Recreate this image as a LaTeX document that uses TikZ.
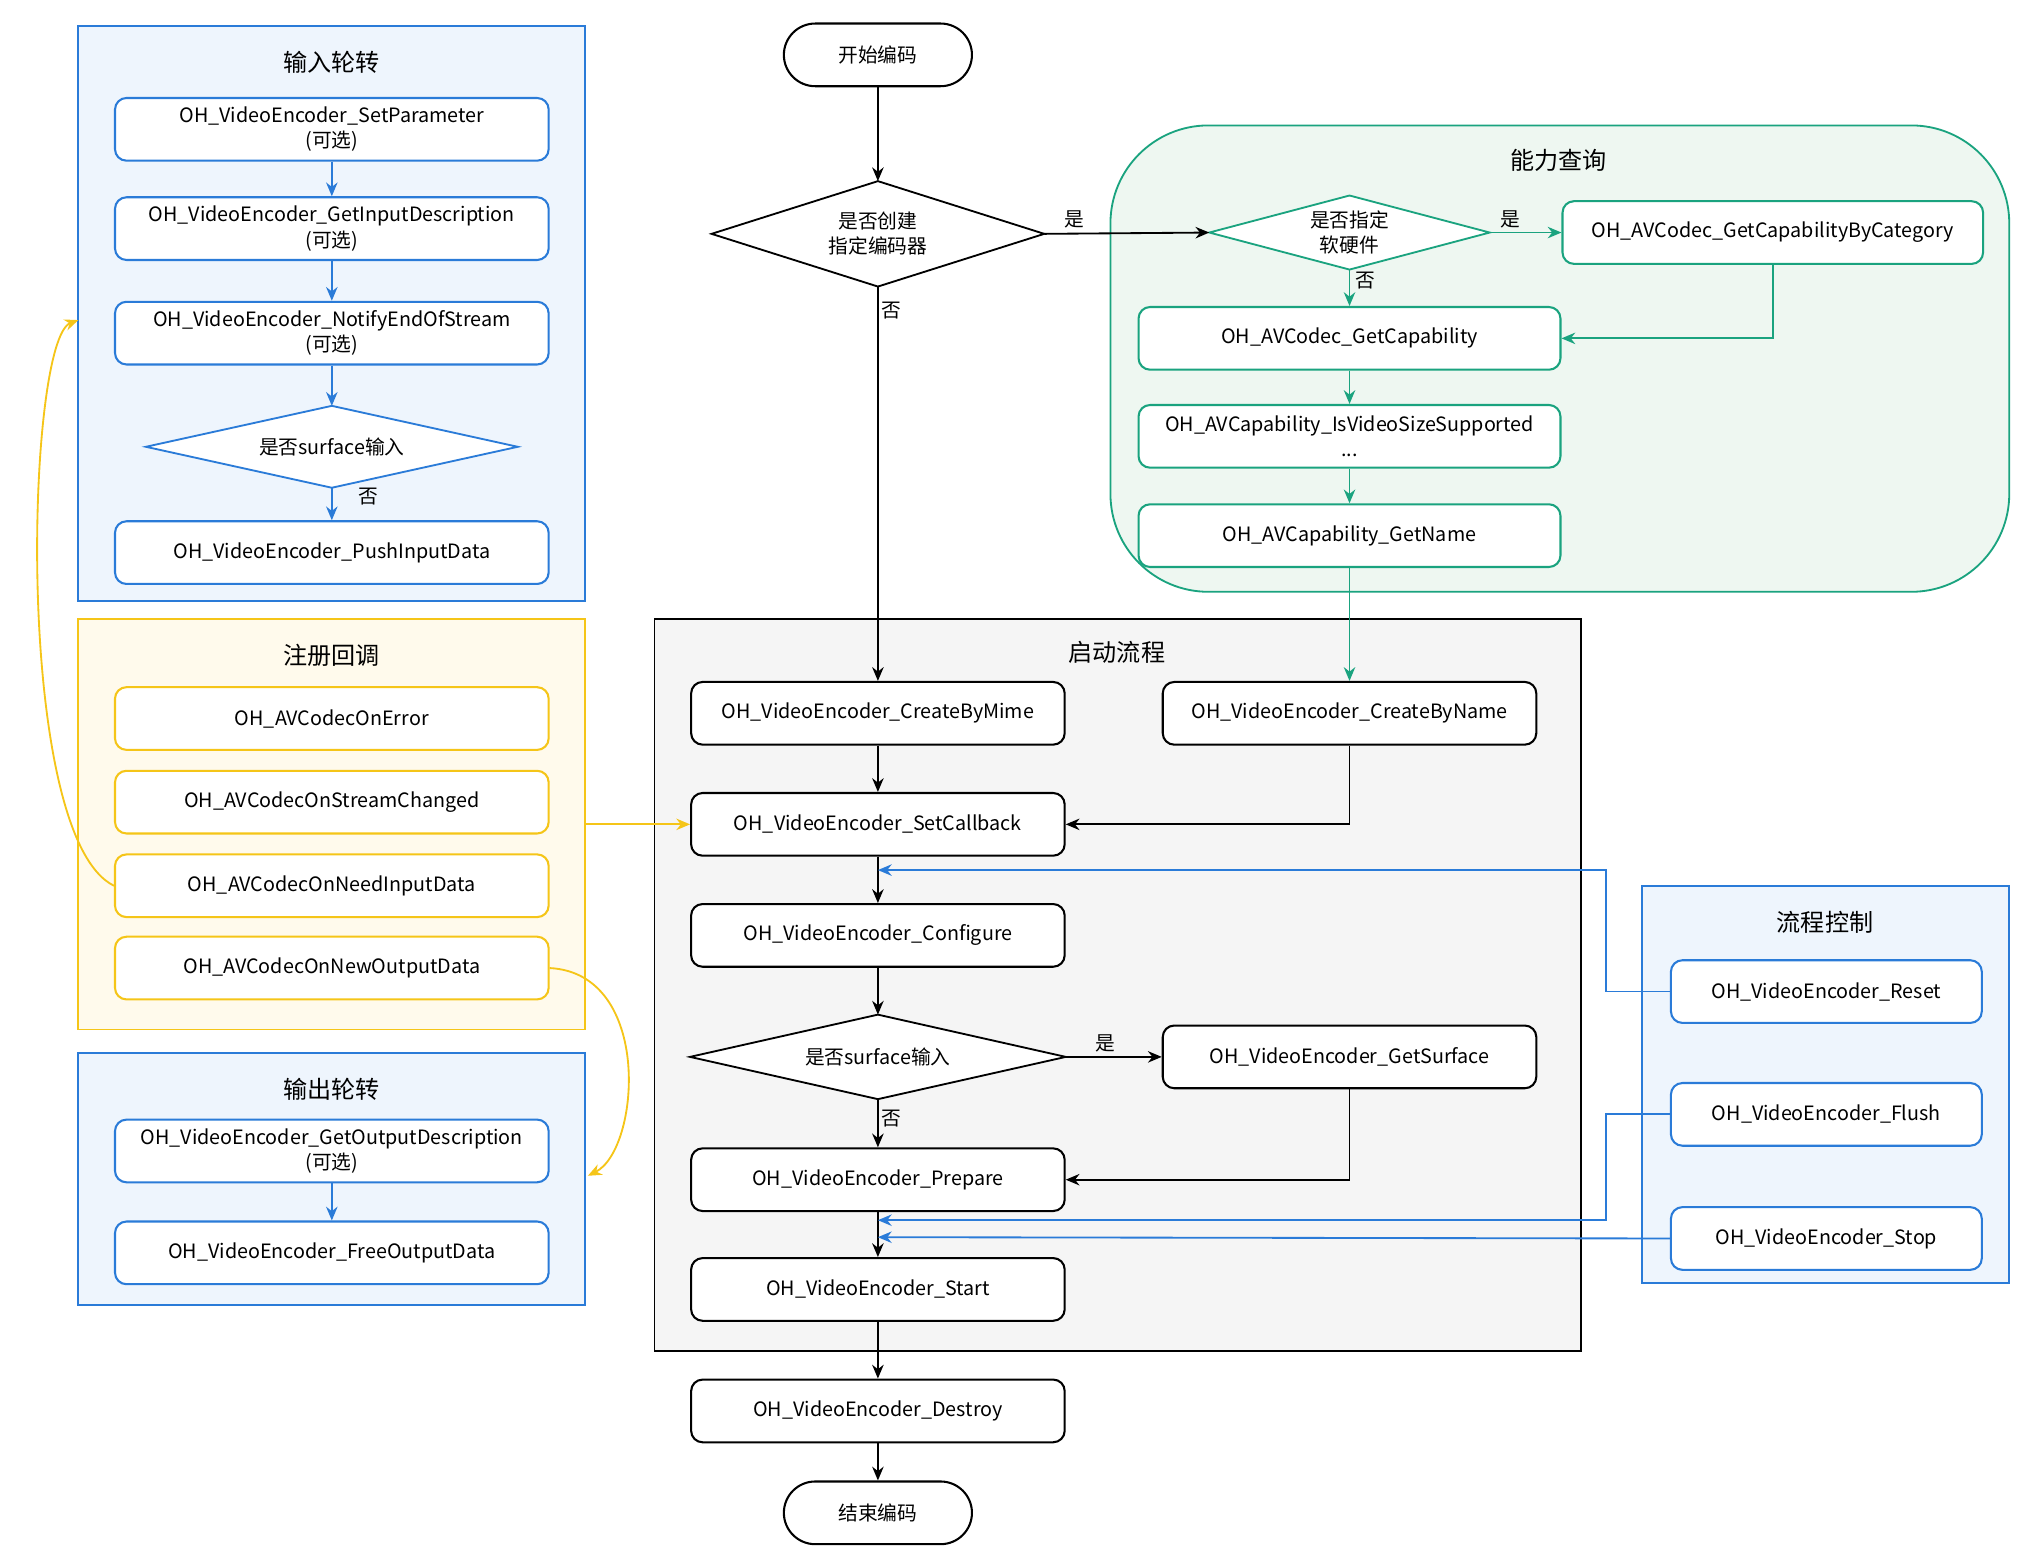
\documentclass[tikz,border=0pt]{standalone}
\usepackage{fontspec}
\setmainfont{Noto Sans CJK SC}
\usetikzlibrary{arrows.meta}
\definecolor{cb}{HTML}{2A7BD8}
\definecolor{cy}{HTML}{F5C518}
\definecolor{cg}{HTML}{1AA37F}
\definecolor{fb}{HTML}{EEF5FD}
\definecolor{fy}{HTML}{FFFAEC}
\definecolor{fg}{HTML}{EEF7F1}
\definecolor{fgr}{HTML}{F5F5F5}
\tikzset{
 base/.style={rounded corners=5pt,line width=0.9pt,fill=white,align=center,inner sep=1pt,minimum height=0.96cm,font=\fontsize{8.6}{11}\selectfont},
 bbox/.style={base,draw=cb,minimum width=6.64cm},
 ybox/.style={base,draw=cy,minimum width=6.64cm},
 gbox/.style={base,draw=cg,minimum width=6.46cm},
 kbox/.style={base,draw=black,minimum width=5.72cm},
 fbox/.style={base,draw=cb,minimum width=4.76cm},
 term/.style={base,draw=black,rounded corners=0.48cm,minimum width=2.88cm},
 dia/.style={draw=none,align=center,inner sep=0pt,font=\fontsize{8.6}{11}\selectfont},
 ttl/.style={font=\fontsize{10.5}{12}\selectfont},
 lbl/.style={font=\fontsize{8.6}{11}\selectfont},
 ak/.style={-{Stealth[length=6pt,width=5pt]},line width=0.8pt},
 ab/.style={ak,draw=cb},
 ag/.style={ak,draw=cg},
 ay/.style={ak,draw=cy},
}
\begin{document}
\begin{tikzpicture}[x=0.02cm,y=-0.02cm]
\useasboundingbox (0,0) rectangle (1560,1197);
% group boxes
\draw[cb,fill=fb,line width=0.8pt] (60,20) rectangle (448,460);
\draw[cy,fill=fy,line width=0.8pt] (60,474) rectangle (448,788);
\draw[cb,fill=fb,line width=0.8pt] (60,806) rectangle (448,999);
\draw[cg,fill=fg,line width=0.8pt,rounded corners=1.5cm] (850,96) rectangle (1538,453);
\draw[black,fill=fgr,line width=0.8pt] (501,474) rectangle (1210,1034);
\draw[cb,fill=fb,line width=0.8pt] (1257,678) rectangle (1538,982);
\node[ttl] at (254,48) {输入轮转};
\node[ttl] at (254,502) {注册回调};
\node[ttl] at (254,834) {输出轮转};
\node[ttl] at (1193,123) {能力查询};
\node[ttl] at (855,499) {启动流程};
\node[ttl] at (1397,706) {流程控制};
% left input
\node[bbox] (sp) at (254,99) {OH\_VideoEncoder\_SetParameter\\(可选)};
\node[bbox] (gi) at (254,175) {OH\_VideoEncoder\_GetInputDescription\\(可选)};
\node[bbox] (ne) at (254,255) {OH\_VideoEncoder\_NotifyEndOfStream\\(可选)};
\node[dia,minimum width=5.68cm,minimum height=1.24cm] (sd) at (254,342) {是否surface输入};
\draw[cb,fill=white,line width=0.8pt] (sd.north)--(sd.east)--(sd.south)--(sd.west)--cycle;
\node[dia] at (sd) {是否surface输入};
\node[bbox] (pi) at (254,423) {OH\_VideoEncoder\_PushInputData};
\draw[ab] (sp)--(gi); \draw[ab] (gi)--(ne); \draw[ab] (ne)--(sd.north); \draw[ab] (sd.south)--(pi);
\node[lbl] at (282,380) {否};
% callbacks
\node[ybox] (oe) at (254,550) {OH\_AVCodecOnError};
\node[ybox] (os) at (254,614) {OH\_AVCodecOnStreamChanged};
\node[ybox] (on) at (254,678) {OH\_AVCodecOnNeedInputData};
\node[ybox] (oo) at (254,741) {OH\_AVCodecOnNewOutputData};
% output
\node[bbox] (go) at (254,881) {OH\_VideoEncoder\_GetOutputDescription\\(可选)};
\node[bbox] (fo) at (254,959) {OH\_VideoEncoder\_FreeOutputData};
\draw[ab] (go)--(fo);
\coordinate (inL) at (60,245);
\coordinate (outR) at (450,900);
\draw[ay] (on.west) .. controls (10,640) and (20,260) .. (inL);
\draw[ay] (oo.east) .. controls (500,745) and (490,880) .. (outR);
% center
\node[term] (st) at (672,42) {开始编码};
\node[dia,minimum width=5.08cm,minimum height=1.6cm] (d1) at (672,179) {};
\draw[black,fill=white,line width=0.8pt] (d1.north)--(d1.east)--(d1.south)--(d1.west)--cycle;
\node[dia] at (d1) {是否创建\\指定编码器};
\node[kbox] (cm) at (672,546) {OH\_VideoEncoder\_CreateByMime};
\node[kbox] (cn) at (1033,546) {OH\_VideoEncoder\_CreateByName};
\node[kbox] (sc) at (672,631) {OH\_VideoEncoder\_SetCallback};
\node[kbox] (cf) at (672,716) {OH\_VideoEncoder\_Configure};
\node[dia,minimum width=5.74cm,minimum height=1.28cm] (d3) at (672,809) {};
\draw[black,fill=white,line width=0.8pt] (d3.north)--(d3.east)--(d3.south)--(d3.west)--cycle;
\node[dia] at (d3) {是否surface输入};
\node[kbox] (gs) at (1033,809) {OH\_VideoEncoder\_GetSurface};
\node[kbox] (pr) at (672,903) {OH\_VideoEncoder\_Prepare};
\node[kbox] (sa) at (672,987) {OH\_VideoEncoder\_Start};
\node[kbox] (de) at (672,1080) {OH\_VideoEncoder\_Destroy};
\node[term] (en) at (672,1158) {结束编码};
% green
\node[dia,minimum width=4.28cm,minimum height=1.12cm] (d2) at (1033,178) {};
\draw[cg,fill=white,line width=0.8pt] (d2.north)--(d2.east)--(d2.south)--(d2.west)--cycle;
\node[dia] at (d2) {是否指定\\软硬件};
\node[gbox,minimum width=6.44cm] (bc) at (1357,178) {OH\_AVCodec\_GetCapabilityByCategory};
\node[gbox] (gc) at (1033,259) {OH\_AVCodec\_GetCapability};
\node[gbox] (iv) at (1033,334) {OH\_AVCapability\_IsVideoSizeSupported\\...};
\node[gbox] (gn) at (1033,410) {OH\_AVCapability\_GetName};
\draw[ag] (d2.east)--(bc.west); \node[lbl] at (1156,168) {是};
\draw[ag] (d2.south)--(gc.north); \node[lbl] at (1045,215) {否};
\draw[ag] (bc.south)|-(gc.east);
\draw[ag] (gc)--(iv); \draw[ag] (iv)--(gn);
\draw[ag] (gn.south)--(cn.north);
% black flow
\draw[ak] (st)--(d1.north);
\draw[ak] (d1.east)--(d2.west); \node[lbl] at (822,168) {是};
\draw[ak] (d1.south)--(cm.north); \node[lbl] at (682,238) {否};
\draw[ak] (cm)--(sc); \draw[ak] (cn.south)|-(sc.east);
\draw[ak] (sc)--(cf); \draw[ak] (cf)--(d3.north);
\draw[ak] (d3.east)--(gs.west); \node[lbl] at (846,799) {是};
\draw[ak] (d3.south)--(pr.north); \node[lbl] at (682,856) {否};
\draw[ak] (gs.south)|-(pr.east);
\draw[ak] (pr)--(sa); \draw[ak] (sa)--(de); \draw[ak] (de)--(en);
\draw[ay] (448,631)--(sc.west);
% flow control
\node[fbox] (rs) at (1398,759) {OH\_VideoEncoder\_Reset};
\node[fbox] (fl) at (1398,853) {OH\_VideoEncoder\_Flush};
\node[fbox] (sp2) at (1398,948) {OH\_VideoEncoder\_Stop};
\coordinate (r1) at (672,666); \coordinate (f1) at (672,934); \coordinate (s1) at (672,947);
\draw[ab] (rs.west)--(1229,759)--(1229,666)--(r1);
\draw[ab] (fl.west)--(1229,853)--(1229,934)--(f1);
\draw[ab] (sp2.west)--(s1);
\end{tikzpicture}
\end{document}
